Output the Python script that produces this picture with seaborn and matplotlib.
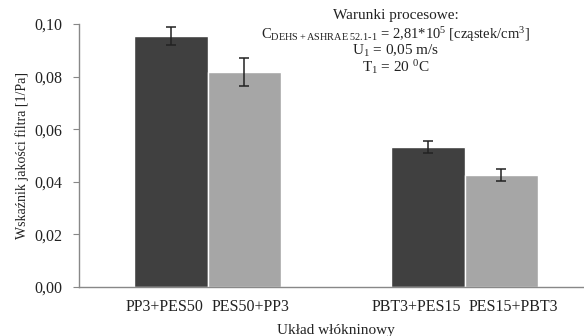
import pandas as pd
import matplotlib
matplotlib.use("Agg")
import matplotlib.pyplot as plt
import seaborn as sns

# data
groups = ["PP3/PES50", "PBT3/PES15"]
order = ["first", "second"]
labels = ["PP3+PES50", "PES50+PP3", "PBT3+PES15", "PES15+PBT3"]
values = [0.0955, 0.0819, 0.0533, 0.0425]
errors = [0.0033, 0.0053, 0.0024, 0.0022]

df = pd.DataFrame({
    "group": [groups[0], groups[0], groups[1], groups[1]],
    "order": order * 2,
    "value": values,
})

sns.set_style("white")
plt.rcParams["font.family"] = ["Liberation Serif", "DejaVu Serif"]
plt.rcParams["mathtext.fontset"] = "custom"
plt.rcParams["mathtext.rm"] = "Liberation Serif"
plt.rcParams["mathtext.it"] = "Liberation Serif:italic"
plt.rcParams["text.color"] = "#222222"
plt.rcParams["axes.labelcolor"] = "#222222"

fig = plt.figure(figsize=(5.84, 3.36), dpi=100)
ax = fig.add_axes([79 / 584, 1 - 287 / 336, 514 / 584, 263 / 336])

sns.barplot(data=df, x="group", y="value", hue="order", order=groups,
            hue_order=order, palette=["#404040", "#a6a6a6"], width=0.57,
            saturation=1, errorbar=None, legend=False, ax=ax)

bars = sorted(ax.patches, key=lambda p: p.get_x())
centers = [b.get_x() + b.get_width() / 2 for b in bars]
ax.errorbar(centers, values, yerr=errors, fmt="none", ecolor="#222222",
            elinewidth=1.1, capsize=3.5, capthick=1.1)

ax.set_xlim(-0.5, 1.5)
ax.set_ylim(0, 0.10)
ax.set_yticks([0, 0.02, 0.04, 0.06, 0.08, 0.10])
ax.set_yticklabels(["0,00", "0,02", "0,04", "0,06", "0,08", "0,10"], fontsize=11.5)
ax.set_xticks([])
ax.set_xticks([0.5], minor=True)
ax.tick_params(axis="x", which="minor", length=4, color="#888888", direction="out")
ax.tick_params(axis="y", length=4, color="#888888", direction="out", left=True,
               pad=8, labelcolor="#222222")

# category labels pushed apart from the bar boundary, like the original
gap = 0.014
for i, b in enumerate(bars):
    if i % 2 == 0:
        xpos, ha = b.get_x() + b.get_width() - gap, "right"
    else:
        xpos, ha = b.get_x() + gap, "left"
    ax.text(xpos, -0.0075, labels[i], ha=ha, va="center", fontsize=11.5)

for s in ["top", "right"]:
    ax.spines[s].set_visible(False)
for s in ["left", "bottom"]:
    ax.spines[s].set_color("#888888")
    ax.spines[s].set_linewidth(1.0)

ax.set_ylabel("Wskaźnik jakości filtra [1/Pa]", fontsize=10, labelpad=4)
ax.set_xlabel("Układ włókninowy", fontsize=11, labelpad=19)

cx = 396 / 584
fig.text(cx, 1 - 16 / 336, "Warunki procesowe:", ha="center", va="center", fontsize=11)
fig.text(cx, 1 - 35 / 336,
         r"C$_{\mathrm{DEHS+ASHRAE\ 52.1\text{-}1}}$ = 2,81*10$^{5}$ [cząstek/cm$^{3}$]",
         ha="center", va="center", fontsize=10.5)
fig.text(cx, 1 - 51 / 336, r"U$_1$ = 0,05 m/s", ha="center", va="center", fontsize=11)
fig.text(cx, 1 - 67 / 336, r"T$_1$ = 20 $^{0}$C", ha="center", va="center", fontsize=11)

fig.savefig("out.png", dpi=100)
